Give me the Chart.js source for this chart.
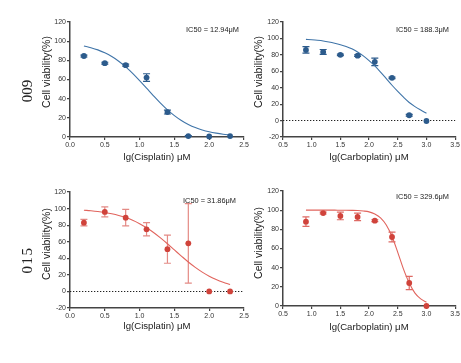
<!DOCTYPE html>
<html><head><meta charset="utf-8">
<script src="https://cdn.jsdelivr.net/npm/chart.js@4"></script>
<style>
html,body{margin:0;padding:0;background:#fff;}
#wrap{position:relative;width:461px;height:363px;overflow:hidden;background:#fff;}
canvas{position:absolute;left:0;top:0;}
.side{position:absolute;font-family:"Liberation Serif","Times New Roman",serif;font-size:15px;color:#222;transform:translate(-50%,-50%) rotate(-90deg);white-space:nowrap;}
</style></head>
<body><div id="wrap">
<canvas id="c1" width="461" height="363"></canvas>
<canvas id="c2" width="461" height="363"></canvas>
<canvas id="c3" width="461" height="363"></canvas>
<canvas id="c4" width="461" height="363"></canvas>
<div class="side" style="left:27px;top:91px">009</div>
<div class="side" style="left:27px;top:260px;letter-spacing:1.5px">015</div>
</div>
<script>
// ---------- data ----------
const cisX   = [0.2, 0.5, 0.8, 1.1, 1.4, 1.7, 2.0, 2.3];
const carboX = [0.9, 1.2, 1.5, 1.8, 2.1, 2.4, 2.7, 3.0];

const v009cis   = [84.5, 77, 75, 62, 26, 1, 0.5, 1];
const e009cis   = [1, 1, 1, 4, 2, 0.5, 0, 0];
const v009carbo = [86, 83.5, 80, 79, 71.5, 52, 6.5, -0.5];
const e009carbo = [4, 3, 1, 1, 4.5, 1, 1, 0];
const v015cis   = [83, 96, 89, 75, 51, 58, 0, 0];
const e015cis   = [4, 6, 10, 8, 17, 48, 0, 0];
const v015carbo = [88, 97, 94, 93, 89, 72, 24, 0];
const e015carbo = [5, 1, 4, 4, 1, 5, 7, 0];

const fitCisX   = [0.2,0.3,0.4,0.5,0.6,0.7,0.8,0.9,1.0,1.1,1.2,1.3,1.4,1.5,1.6,1.7,1.8,1.9,2.0,2.1,2.2,2.3];
const fitCarboX = [0.9,1.0,1.1,1.2,1.3,1.4,1.5,1.6,1.7,1.8,1.9,2.0,2.1,2.2,2.3,2.4,2.5,2.6,2.7,2.8,2.9,3.0];
const fit009cis   = [95.0,93.2,90.9,87.8,83.9,79.1,73.2,66.5,58.9,51.0,43.0,35.3,28.3,22.3,17.2,13.1,9.8,7.3,5.4,4.0,2.9,2.1];
const fit009carbo = [98.8,98.3,97.7,96.9,95.7,94.2,92.4,90.2,87.3,83.5,78.8,73.0,66.5,59.0,51.0,43.0,35.5,28.5,22.0,17.0,12.8,9.0];
const fit015cis   = [98.0,97.3,96.4,95.2,93.7,91.7,89.1,85.8,81.7,76.8,71.1,64.6,57.5,50.1,42.7,35.5,29.0,23.3,18.4,14.3,11.0,8.4];
const fit015carbo = [100,100,100,100,100,100,99.9,99.9,99.8,99.6,99.1,98.2,96.0,92.0,84.5,72.5,56.0,38.5,24.0,13.5,7.5,4.0];

const cisTicks   = [0, 2.5];
const carboTicks = [0.5, 3.5];

// ---------- drawing ----------
const YW = 30, XH = 20;
const FONT = '"Liberation Sans", Arial, sans-serif';

const panelPlugin = {
  id: 'panel',
  beforeDatasetsDraw(chart) {
    const c = chart.options.plugins.panel;
    const ctx = chart.ctx, xs = chart.scales.x, ys = chart.scales.y, a = chart.chartArea;
    if (c.zeroLine) {
      const y0 = ys.getPixelForValue(0);
      ctx.save();
      ctx.strokeStyle = '#222'; ctx.lineWidth = 1.1; ctx.setLineDash([1.3, 1.7]);
      ctx.beginPath(); ctx.moveTo(a.left, y0); ctx.lineTo(a.right, y0); ctx.stroke();
      ctx.restore();
    }
    const ds = chart.data.datasets[1];
    ctx.save();
    ctx.strokeStyle = c.errColor; ctx.lineWidth = 1.2;
    ds.data.forEach((p, i) => {
      const e = c.err[i]; if (!e) return;
      const px = xs.getPixelForValue(p.x);
      const y1 = ys.getPixelForValue(p.y + e), y2 = ys.getPixelForValue(p.y - e);
      ctx.beginPath();
      ctx.moveTo(px, y1); ctx.lineTo(px, y2);
      ctx.moveTo(px - 3.5, y1); ctx.lineTo(px + 3.5, y1);
      ctx.moveTo(px - 3.5, y2); ctx.lineTo(px + 3.5, y2);
      ctx.stroke();
    });
    ctx.restore();
  },
  afterDraw(chart) {
    const c = chart.options.plugins.panel;
    const ctx = chart.ctx, a = chart.chartArea;
    ctx.save();
    ctx.fillStyle = '#1a1a1a';
    ctx.font = '9.6px ' + FONT; ctx.textAlign = 'center'; ctx.textBaseline = 'middle';
    ctx.fillText(c.xTitle, (a.left + a.right) / 2, c.xTitleY);
    ctx.save();
    ctx.translate(c.yTitleX, c.yTitleY); ctx.rotate(-Math.PI / 2);
    ctx.font = '10.5px ' + FONT;
    ctx.fillText('Cell viability(%)', 0, 0);
    ctx.restore();
    ctx.font = '7.4px ' + FONT; ctx.textAlign = 'left';
    ctx.fillText(c.ic50, c.icX, c.icY);
    ctx.restore();
  }
};

function makePanel(id, p) {
  new Chart(document.getElementById(id), {
    type: 'scatter',
    data: { datasets: [
      { type: 'line', data: p.fitX.map((x, i) => ({x, y: p.fit[i]})), borderColor: p.lineColor,
        borderWidth: 1.1, pointRadius: 0, fill: false, cubicInterpolationMode: 'monotone', clip: false, order: 2 },
      { type: 'scatter', data: p.x.map((x, i) => ({x, y: p.y[i]})), backgroundColor: p.dotColor,
        borderColor: p.dotColor, borderWidth: 0, pointRadius: 2.9, clip: false, order: 1 }
    ]},
    options: {
      responsive: false, animation: false, devicePixelRatio: 1,
      layout: { padding: { left: p.L - YW, top: p.T, right: 461 - p.R, bottom: 363 - p.B - XH } },
      plugins: { legend: { display: false }, tooltip: { enabled: false },
        panel: { err: p.err, errColor: p.errColor, zeroLine: p.yMin < 0, xTitle: p.xTitle, xTitleY: p.xTitleY,
                 yTitleX: p.yTitleX, yTitleY: p.yTitleY, ic50: p.ic50, icX: p.icX, icY: p.icY } },
      scales: {
        x: { type: 'linear', min: p.xr[0], max: p.xr[1],
             ticks: { stepSize: 0.5, callback: v => v.toFixed(1), font: { family: FONT, size: 7 }, color: '#333', padding: 1, maxRotation: 0, autoSkip: false },
             grid: { drawOnChartArea: false, drawTicks: true, tickLength: 3, color: '#444', lineWidth: 1.2 },
             border: { color: '#444', width: 1.5 },
             afterFit: s => { s.height = XH; } },
        y: { type: 'linear', min: p.yMin, max: 120,
             ticks: { stepSize: 20, font: { family: FONT, size: 7 }, color: '#333', padding: 1, autoSkip: false },
             grid: { drawOnChartArea: false, drawTicks: true, tickLength: 3, color: '#444', lineWidth: 1.2 },
             border: { color: '#444', width: 1.5 },
             afterFit: s => { s.width = YW; } }
      }
    },
    plugins: [panelPlugin]
  });
}

const BLUE = '#2c5b8c', BLUE_LINE = '#3f74a8', RED = '#d0433b', RED_LINE = '#e1645d';

makePanel('c1', { L: 70, R: 244, T: 22, B: 137, xr: cisTicks, yMin: 0,
  x: cisX, y: v009cis, err: e009cis, fitX: fitCisX, fit: fit009cis,
  dotColor: BLUE, lineColor: BLUE_LINE, errColor: BLUE,
  xTitle: 'lg(Cisplatin) μM', xTitleY: 157, yTitleX: 47, yTitleY: 72,
  ic50: 'IC50 = 12.94μM', icX: 186, icY: 30 });
makePanel('c2', { L: 283, R: 456, T: 22, B: 137, xr: carboTicks, yMin: -20,
  x: carboX, y: v009carbo, err: e009carbo, fitX: fitCarboX, fit: fit009carbo,
  dotColor: BLUE, lineColor: BLUE_LINE, errColor: BLUE,
  xTitle: 'lg(Carboplatin) μM', xTitleY: 157, yTitleX: 259, yTitleY: 72,
  ic50: 'IC50 = 188.3μM', icX: 396, icY: 30 });
makePanel('c3', { L: 70, R: 244, T: 192, B: 308, xr: cisTicks, yMin: -20,
  x: cisX, y: v015cis, err: e015cis, fitX: fitCisX, fit: fit015cis,
  dotColor: RED, lineColor: RED_LINE, errColor: '#e48a85',
  xTitle: 'lg(Cisplatin) μM', xTitleY: 326, yTitleX: 47, yTitleY: 244,
  ic50: 'IC50 = 31.86μM', icX: 183, icY: 201 });
makePanel('c4', { L: 283, R: 456, T: 191, B: 306, xr: carboTicks, yMin: 0,
  x: carboX, y: v015carbo, err: e015carbo, fitX: fitCarboX, fit: fit015carbo,
  dotColor: RED, lineColor: RED_LINE, errColor: '#de6a64',
  xTitle: 'lg(Carboplatin) μM', xTitleY: 327, yTitleX: 259, yTitleY: 243,
  ic50: 'IC50 = 329.6μM', icX: 396, icY: 197 });
</script>
</body></html>
